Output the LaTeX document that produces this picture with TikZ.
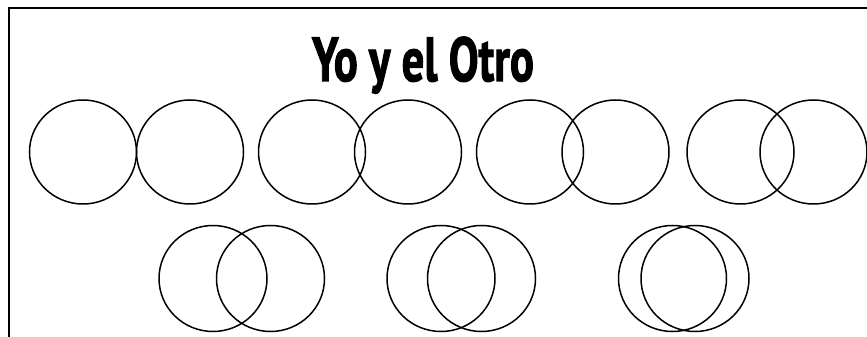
\documentclass[tikz,border=0pt]{standalone}
\usepackage{fontspec}
\newfontfamily\titlefont{PT Sans}[BoldFeatures={FakeBold=2}]

\begin{document}
\begin{tikzpicture}[x=1pt,y=1pt]
% \draw[help lines] (0,0) grid[step=20] (867,337);
\useasboundingbox (0,0) rectangle (867,337);
\draw[line width=2pt] (9,0) -- (9,328.5) -- (867,328.5);

\node[anchor=base, xscale=0.72, inner sep=0pt] (title) at (423,256)
  {\titlefont\bfseries\fontsize{62}{62}\selectfont Yo y el Otro};

% first row
\draw[line width=1.5pt] (83,185) circle [x radius=53.5, y radius=52];
\draw[line width=1.5pt] (190,185) circle [x radius=53.5, y radius=52];
\draw[line width=1.5pt] (312,185) circle [x radius=53.5, y radius=52];
\draw[line width=1.5pt] (408,185) circle [x radius=53.5, y radius=52];
\draw[line width=1.5pt] (530,185) circle [x radius=53.5, y radius=52];
\draw[line width=1.5pt] (615.5,185) circle [x radius=53.5, y radius=52];
\draw[line width=1.5pt] (740.5,185) circle [x radius=53.5, y radius=52];
\draw[line width=1.5pt] (813.5,185) circle [x radius=53.5, y radius=52];

% second row
\draw[line width=1.5pt] (213,58.5) circle [x radius=54, y radius=53];
\draw[line width=1.5pt] (270.5,58.5) circle [x radius=54, y radius=53];
\draw[line width=1.5pt] (441,58.5) circle [x radius=54, y radius=53];
\draw[line width=1.5pt] (481.5,58.5) circle [x radius=54, y radius=53];
\draw[line width=1.5pt] (672.5,58.5) circle [x radius=54, y radius=53];
\draw[line width=1.5pt] (695,58.5) circle [x radius=54, y radius=53];

\end{tikzpicture}
\end{document}
